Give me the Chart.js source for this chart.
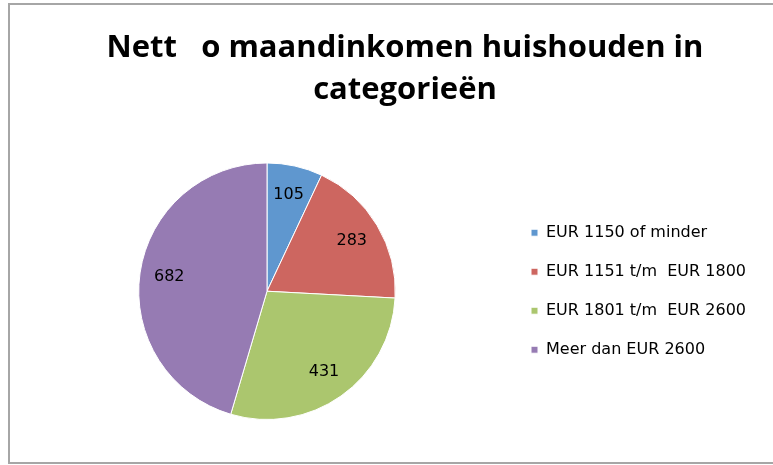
<!DOCTYPE html>
<html>
<head>
<meta charset="utf-8">
<script src="https://cdn.jsdelivr.net/npm/chart.js@4"></script>
<style>
    body { margin: 0; background: #fff; }
    #wrap { position: relative; width: 773px; height: 465px; }
</style>
</head>
<body>
<div id="wrap"><canvas id="pieChart"></canvas></div>
<script>
// Data
const categories = ['EUR 1150 of minder', 'EUR 1151 t/m  EUR 1800', 'EUR 1801 t/m  EUR 2600', 'Meer dan EUR 2600'];
const households = [105, 283, 431, 682];
const sliceColors = ['#5f97cf', '#cd6660', '#abc66e', '#967bb3'];
const titleLines = ['Nett   o maandinkomen huishouden in', 'categorieën'];

const labelFont = "16px 'DejaVu Sans', sans-serif";

// frame round the chart (left, top, bottom only, like the original)
const framePlugin = {
    id: 'frame',
    beforeDraw(chart) {
        const ctx = chart.ctx;
        ctx.save();
        ctx.strokeStyle = '#a6a6a6';
        ctx.lineWidth = 2;
        ctx.beginPath();
        ctx.moveTo(chart.width, 4);
        ctx.lineTo(9, 4);
        ctx.lineTo(9, 463);
        ctx.lineTo(chart.width, 463);
        ctx.stroke();
        ctx.restore();
    }
};

// the original title sits a bit right of the canvas middle
const titleShift = {
    id: 'titleShift',
    afterLayout(chart) {
        chart.titleBlock.left += 14;
        chart.titleBlock.right += 14;
    }
};

// value labels inside the slices
const valueLabels = {
    id: 'valueLabels',
    afterDatasetsDraw(chart) {
        const ctx = chart.ctx;
        const meta = chart.getDatasetMeta(0);
        ctx.save();
        ctx.font = labelFont;
        ctx.fillStyle = '#000';
        ctx.textAlign = 'center';
        ctx.textBaseline = 'middle';
        meta.data.forEach((arc, i) => {
            const p = arc.getProps(['x', 'y', 'startAngle', 'endAngle', 'outerRadius'], true);
            const mid = (p.startAngle + p.endAngle) / 2;
            const r = p.outerRadius * 0.77;
            ctx.fillText(String(households[i]), p.x + Math.cos(mid) * r, p.y + Math.sin(mid) * r);
        });
        ctx.restore();
    }
};

new Chart(document.getElementById('pieChart'), {
    type: 'pie',
    data: {
        labels: categories,
        datasets: [{
            data: households,
            backgroundColor: sliceColors,
            borderColor: '#ffffff',
            borderWidth: 1
        }]
    },
    options: {
        responsive: true,
        maintainAspectRatio: false,
        animation: false,
        layout: {
            padding: { left: 26, right: 17, top: 0, bottom: 45 }
        },
        plugins: {
            title: {
                display: true,
                text: titleLines,
                color: '#000',
                font: { family: "'Open Sans', sans-serif", size: 31, weight: 'bold', lineHeight: 1.33 },
                padding: { top: 28, bottom: 52 }
            },
            legend: {
                position: 'right',
                fullSize: false,
                align: 'center',
                labels: {
                    color: '#000',
                    font: { family: "'DejaVu Sans', sans-serif", size: 16 },
                    boxWidth: 7,
                    boxHeight: 7,
                    padding: 23
                }
            },
            tooltip: { enabled: false }
        }
    },
    plugins: [framePlugin, titleShift, valueLabels]
});
</script>
</body>
</html>
